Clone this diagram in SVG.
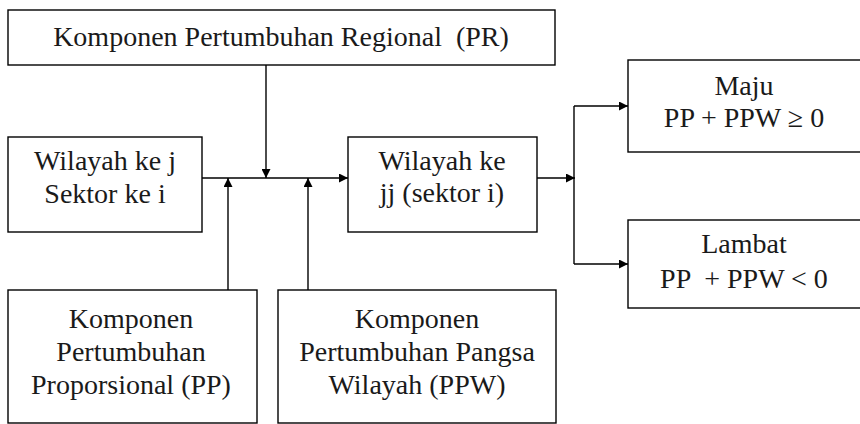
<svg xmlns="http://www.w3.org/2000/svg" width="860" height="424" viewBox="0 0 860 424">
<defs>
<marker id="ah" viewBox="0 0 10 10" refX="10" refY="5" markerWidth="10" markerHeight="9" markerUnits="userSpaceOnUse" orient="auto">
<path d="M0,0 L10,5 L0,10 Z" fill="#000"/>
</marker>
<style>
rect{fill:#fff;stroke:#000;stroke-width:1.4}
text{font-family:'Liberation Serif','Times New Roman',Tinos,'Nimbus Roman','DejaVu Serif','Noto Serif',FreeSerif,Times,serif;font-size:28px;fill:#1a1a1a;text-anchor:middle}
.c{fill:none;stroke:#000;stroke-width:1.4}
.pre{white-space:pre}
</style>
</defs>
<rect x="0" y="0" width="860" height="424" style="stroke:none"/>
<g id="connectors">
<path class="c" d="M266,65 V178" marker-end="url(#ah)"/>
<path class="c" d="M202,178 H348" marker-end="url(#ah)"/>
<path class="c" d="M228,290 V178" marker-end="url(#ah)"/>
<path class="c" d="M308,290 V178" marker-end="url(#ah)"/>
<path class="c" d="M537,178 H575" marker-end="url(#ah)"/>
<path class="c" d="M574,106 V264"/>
<path class="c" d="M574,106 H628" marker-end="url(#ah)"/>
<path class="c" d="M574,264 H628" marker-end="url(#ah)"/>
</g>
<g id="pr">
<rect x="8" y="10" width="547" height="55"/>
<text x="281" y="46" class="pre">Komponen Pertumbuhan Regional  (PR)</text>
</g>
<g id="wilayah-j">
<rect x="8" y="137" width="194" height="95"/>
<text x="105" y="170">Wilayah ke j</text>
<text x="105" y="203">Sektor ke i</text>
</g>
<g id="wilayah-jj">
<rect x="348" y="137" width="189" height="95"/>
<text x="442" y="170">Wilayah ke</text>
<text x="442" y="202">jj (sektor i)</text>
</g>
<g id="maju">
<rect x="628" y="60" width="240" height="92"/>
<text x="744" y="95">Maju</text>
<text x="744" y="127">PP + PPW ≥ 0</text>
</g>
<g id="lambat">
<rect x="628" y="220" width="240" height="88"/>
<text x="744" y="253">Lambat</text>
<text x="744" y="288" class="pre">PP  + PPW &lt; 0</text>
</g>
<g id="pp">
<rect x="8" y="290" width="249" height="133"/>
<text x="131" y="328">Komponen</text>
<text x="131" y="361">Pertumbuhan</text>
<text x="131" y="394">Proporsional (PP)</text>
</g>
<g id="ppw">
<rect x="278" y="290" width="278" height="133"/>
<text x="417" y="328">Komponen</text>
<text x="417" y="361">Pertumbuhan Pangsa</text>
<text x="417" y="394">Wilayah (PPW)</text>
</g>
</svg>
